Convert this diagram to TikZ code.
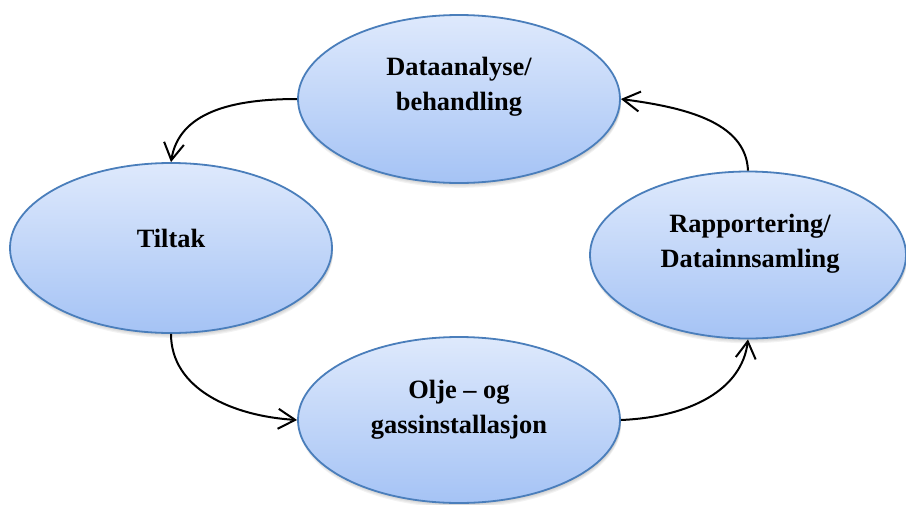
\documentclass[tikz,border=0pt]{standalone}
\usepackage{fontspec}
\setmainfont{Liberation Serif}
\usetikzlibrary{arrows.meta,shapes.geometric,calc}

\definecolor{ovalTop}{HTML}{DEE9FC}
\definecolor{ovalBot}{HTML}{A5C3F5}
\definecolor{ovalEdge}{HTML}{4A7EBB}

\tikzset{
  oval/.style={ellipse, draw=ovalEdge, line width=1.8pt,
    top color=ovalTop, bottom color=ovalBot, inner sep=0pt},
  ovalshade/.style={ellipse, fill=black, draw=none, inner sep=0pt},
  lbl/.style={font=\fontsize{26.4}{35}\selectfont\bfseries, inner sep=0pt, anchor=base},
  flow/.style={draw=black, line width=2pt,
    -{Straight Barb[length=17pt,width=20pt,line width=2pt]}},
}

% oval stage with a soft shadow beneath it
\newcommand{\ovalwithshade}[4]{%
  \foreach \k in {1,2,3,4}{
    \node[ovalshade, opacity=0.05, minimum width=#3pt, minimum height=#4pt]
      at ($(#2)+(1,1.2*\k)$) {};
  }
  \node[oval, minimum width=#3pt, minimum height=#4pt] (#1) at (#2) {};
}

\begin{document}
\begin{tikzpicture}[x=1pt, y=-1pt]
  \useasboundingbox (0,0) rectangle (906,504);

  % four process stages
  \ovalwithshade{nTop}{459,99}{322}{168}
  \ovalwithshade{nLeft}{171,248}{322}{170}
  \ovalwithshade{nBottom}{459,420}{322}{166}
  \ovalwithshade{nRight}{748,255}{316}{167}

  % stage labels
  \node[lbl] (tTopA) at (459,75) {Dataanalyse/};
  \node[lbl] (tTopB) at (459,110) {behandling};
  \node[lbl] (tLeft) at (171,247) {Tiltak};
  \node[lbl] (tRightA) at (750,232) {Rapportering/};
  \node[lbl] (tRightB) at (750,267) {Datainnsamling};
  \node[lbl] (tBotA) at (459,398) {Olje -- og};
  \node[lbl] (tBotB) at (459,433) {gassinstallasjon};

  % cycle connectors
  \draw[flow] (nTop.west) .. controls +(-65,0) and +(8,-50) .. (nLeft.north);
  \draw[flow] (nLeft.south) .. controls +(0,55) and +(-65,-4) .. (nBottom.west);
  \draw[flow] (nBottom.east) .. controls +(70,-3) and +(-6,50) .. (nRight.south);
  \draw[flow] (nRight.north) .. controls +(-2,-50) and +(60,8) .. (nTop.east);
\end{tikzpicture}
\end{document}
